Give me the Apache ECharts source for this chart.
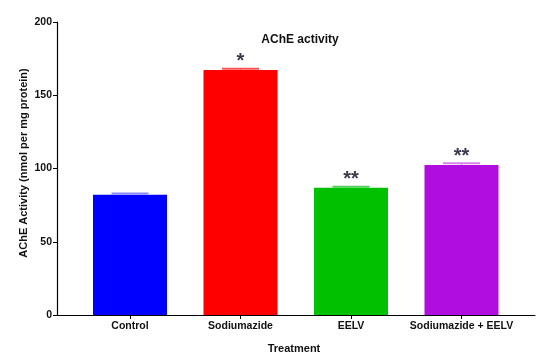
<!DOCTYPE html>
<html>
<head>
<meta charset="utf-8">
<script src="https://cdn.jsdelivr.net/npm/echarts@6/dist/echarts.min.js"></script>
<style>html,body{margin:0;padding:0;background:#fff;}#c{width:547px;height:363px;}</style>
</head>
<body>
<div id="c"></div>
<script>
const categories = ['Control', 'Sodiumazide', 'EELV', 'Sodiumazide + EELV'];
const values = [82, 167.3, 86.8, 102.4];
const errors = [1.0, 0.8, 0.8, 1.2];
const marks = ['', '*', '**', '**'];
const barColors = ['#0000ff', '#ff0000', '#00c000', '#b00de0'];
const capColors = ['#8a8aff', '#ff5050', '#50d050', '#d880ec'];
const yTicks = [0, 50, 100, 150, 200];

const font = 'Liberation Sans, Arial, sans-serif';
const chart = echarts.init(document.getElementById('c'), null, {renderer: 'canvas'});
chart.setOption({
  animation: false,
  title: [
    {text: 'AChE activity', left: 295, top: 29, textAlign: 'center',
     textStyle: {fontFamily: font, fontSize: 12, fontWeight: 'bold', color: '#111'}},
    {text: 'Treatment', left: 289, top: 338, textAlign: 'center',
     textStyle: {fontFamily: font, fontSize: 11, fontWeight: 'bold', color: '#111'}}
  ],
  graphic: [
    {type: 'text', x: 24, y: 163, rotation: Math.PI / 2,
     style: {text: 'AChE Activity (nmol per mg protein)', fontFamily: font, fontSize: 11, fontWeight: 'bold',
       fill: '#111', align: 'center', verticalAlign: 'middle'}}
  ],
  grid: [
    {left: 57, top: 22, width: 478, height: 293},
    {left: 74.75, top: 22, width: 442, height: 293}
  ],
  xAxis: [
    {gridIndex: 0, type: 'category', data: [''], axisLine: {lineStyle: {color: '#000', width: 1.2}},
     axisTick: {show: false}, axisLabel: {show: false}},
    {gridIndex: 1, type: 'category', data: categories, axisLine: {show: false},
     axisTick: {show: true, alignWithLabel: true, length: 4, lineStyle: {color: '#000'}},
     axisLabel: {fontFamily: font, fontSize: 10.5, fontWeight: 'bold', color: '#111', margin: 6, interval: 0}}
  ],
  yAxis: [
    {gridIndex: 0, type: 'value', min: yTicks[0], max: yTicks[yTicks.length - 1], interval: 50,
     axisLine: {show: true, lineStyle: {color: '#000', width: 1.2}},
     axisTick: {show: true, length: 4, lineStyle: {color: '#000'}},
     splitLine: {show: false},
     axisLabel: {fontFamily: font, fontSize: 10.5, fontWeight: 'bold', color: '#111', margin: 5}},
    {gridIndex: 1, type: 'value', min: yTicks[0], max: yTicks[yTicks.length - 1], interval: 50, show: false}
  ],
  series: [
    {type: 'bar', xAxisIndex: 1, yAxisIndex: 1, barWidth: 74,
     data: values.map((v, i) => ({value: v, itemStyle: {color: barColors[i]},
       label: {show: !!marks[i], formatter: marks[i]}})),
     label: {position: 'top', distance: -2, fontFamily: font, fontSize: 20, fontWeight: 'bold', color: '#3a3a4e'},
     z: 2},
    {type: 'custom', xAxisIndex: 1, yAxisIndex: 1, z: 3,
     data: values.map((v, i) => [i, v, errors[i]]),
     renderItem: function (params, api) {
       const i = api.value(0);
       const top = api.coord([i, api.value(1) + api.value(2)]);
       const base = api.coord([i, api.value(1)]);
       const half = 18.5;
       return {type: 'group', children: [
         {type: 'line', shape: {x1: top[0] - half, y1: top[1], x2: top[0] + half, y2: top[1]},
          style: {stroke: capColors[i], lineWidth: 2}},
         {type: 'line', shape: {x1: top[0], y1: top[1], x2: base[0], y2: base[1]},
          style: {stroke: capColors[i], lineWidth: 1}}
       ]};
     }}
  ]
});
</script>
</body>
</html>
